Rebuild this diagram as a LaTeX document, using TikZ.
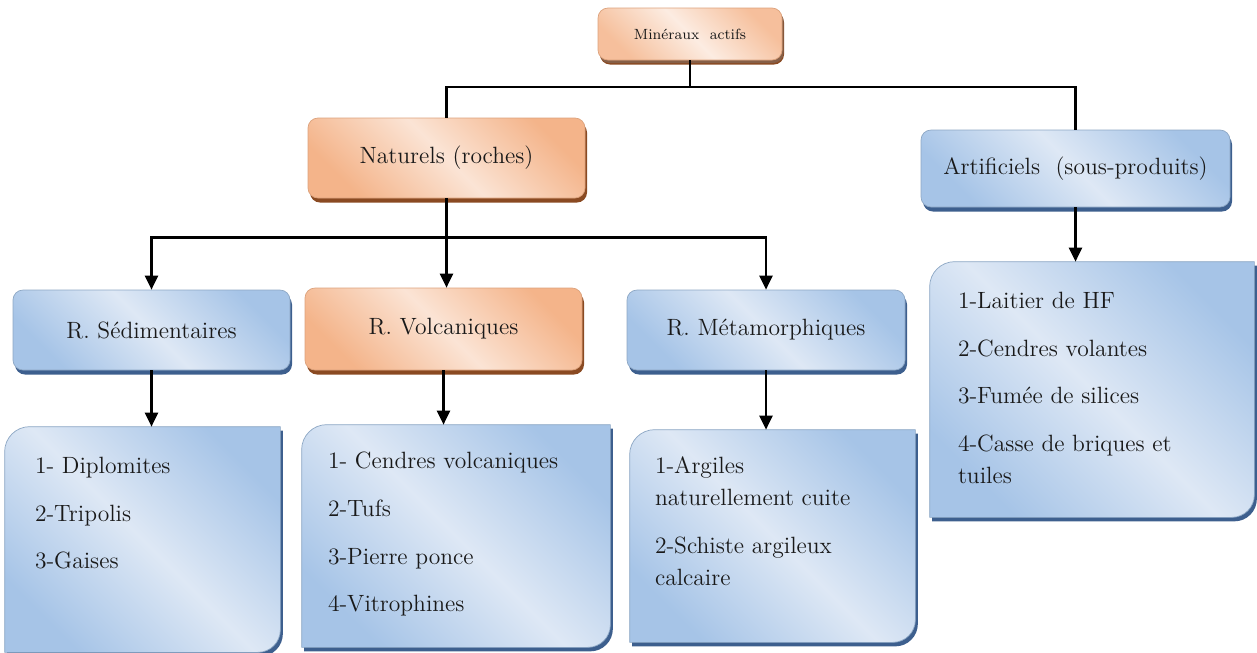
\documentclass[tikz,border=0pt]{standalone}
\usetikzlibrary{arrows.meta, shadows, backgrounds, calc}

\definecolor{bluedk}{HTML}{A6C4E7}
\definecolor{bluelt}{HTML}{DEE8F5}
\definecolor{bluesh}{HTML}{3D5F8E}
\definecolor{orgdk}{HTML}{F4B48A}
\definecolor{orglt}{HTML}{FBE4D5}
\definecolor{orgsh}{HTML}{8A4A22}

\begin{document}
\begin{tikzpicture}[
    every node/.style={font=\fontsize{13.4}{18.2}\selectfont, text=black!90},
    bluebox/.style={rounded corners=0.2cm, inner sep=0pt, draw=bluedk!85!black, thin,
        top color=bluedk, bottom color=bluedk, middle color=bluelt, shading angle=-45,
        drop shadow={shadow xshift=0.04cm, shadow yshift=-0.09cm, fill=bluesh, opacity=1}},
    orangebox/.style={rounded corners=0.2cm, inner sep=0pt, draw=orgdk!90!black, thin,
        top color=orgdk, bottom color=orgdk, middle color=orglt, shading angle=-45,
        drop shadow={shadow xshift=0.04cm, shadow yshift=-0.09cm, fill=orgsh, opacity=1}},
    listbox/.style={inner sep=0pt},
    listfill/.style={draw=bluedk!85!black, thin, top color=bluedk, bottom color=bluedk,
        middle color=bluelt, shading angle=-45,
        preaction={fill=bluesh, transform canvas={xshift=0.05cm, yshift=-0.08cm}}},
    listtext/.style={anchor=north west, align=left, inner sep=0pt},
    link/.style={line width=1.3pt},
    arrow/.style={link, -{Triangle[length=0.28cm, width=0.26cm]}}
]
    \useasboundingbox (0,0) rectangle (25.14,-13.04);

    % top of the tree
    \node[orangebox, minimum width=3.68cm, minimum height=1.04cm,
        font=\fontsize{8.4}{10}\selectfont, top color=orgdk!85, bottom color=orgdk!85,
        middle color=orglt!70, shading angle=-45,
        drop shadow={shadow xshift=0.03cm, shadow yshift=-0.06cm, fill=orgsh!60!gray, opacity=1}]
        (top) at (13.8,-0.68) {Minéraux\ \ actifs};

    \node[orangebox, minimum width=5.54cm, minimum height=1.6cm] (nat) at (8.93,-3.16) {Naturels (roches)};
    \node[bluebox, minimum width=6.18cm, minimum height=1.54cm] (art) at (21.51,-3.37) {Artificiels\ \ (sous-produits)};

    % kinds of rocks
    \node[bluebox, minimum width=5.54cm, minimum height=1.6cm] (sed) at (3.03,-6.6) {R. Sédimentaires};
    \node[orangebox, minimum width=5.54cm, minimum height=1.64cm] (volc) at (8.87,-6.58) {R. Volcaniques};
    \node[bluebox, minimum width=5.56cm, minimum height=1.6cm] (meta) at (15.32,-6.6) {R. Métamorphiques};

    % lists
    \node[listbox, minimum width=5.5cm, minimum height=4.5cm] (sedl) at (2.85,-10.79) {};
    \node[listbox, minimum width=6.16cm, minimum height=4.44cm] (volcl) at (9.12,-10.72) {};
    \node[listbox, minimum width=5.7cm, minimum height=4.24cm] (metal) at (15.45,-10.72) {};
    \node[listbox, minimum width=6.48cm, minimum height=5.1cm] (artl) at (21.84,-7.79) {};

    \begin{scope}[on background layer]
        \foreach \b in {sedl, volcl, metal, artl} {
            \path[listfill] (\b.south west) -- ([yshift=-0.5cm]\b.north west)
                arc[start angle=180, end angle=90, radius=0.5cm] -- (\b.north east)
                -- ([yshift=0.45cm]\b.south east)
                arc[start angle=0, end angle=-90, radius=0.45cm] -- cycle;
        }
    \end{scope}

    \node[listtext] (sedt) at ([shift={(0.6,-0.6)}]sedl.north west)
        {1- Diplomites\\[9pt] 2-Tripolis\\[9pt] 3-Gaises};
    \node[listtext] (volct) at ([shift={(0.52,-0.54)}]volcl.north west)
        {1- Cendres volcaniques\\[9pt] 2-Tufs\\[9pt] 3-Pierre ponce\\[9pt] 4-Vitrophines};
    \node[listtext] (metat) at ([shift={(0.5,-0.54)}]metal.north west)
        {1-Argiles\\ naturellement cuite\\[9pt] 2-Schiste argileux\\ calcaire};
    \node[listtext] (artt) at ([shift={(0.56,-0.6)}]artl.north west)
        {1-Laitier de HF\\[9pt] 2-Cendres volantes\\[9pt] 3-Fumée de silices\\[9pt] 4-Casse de briques et\\ tuiles};

    % connectors
    \draw[link] (top.south) -- ++(0,-0.54) coordinate (topj);
    \draw[link] (topj) -| (nat.north);
    \draw[link] (topj) -| (art.north);
    \draw[link] (nat.south) -- ++(0,-0.78) coordinate (natj);
    \draw[arrow] (natj) -| (sed.north);
    \draw[arrow] (natj) -| (meta.north);
    \draw[arrow] (nat.south) -- (nat.south |- volc.north);
    \draw[arrow] (art.south) -- (art.south |- artl.north);
    \draw[arrow] (sed.south) -- (sed.south |- sedl.north);
    \draw[arrow] (volc.south) -- (volc.south |- volcl.north);
    \draw[arrow] (meta.south) -- (meta.south |- metal.north);
\end{tikzpicture}
\end{document}
